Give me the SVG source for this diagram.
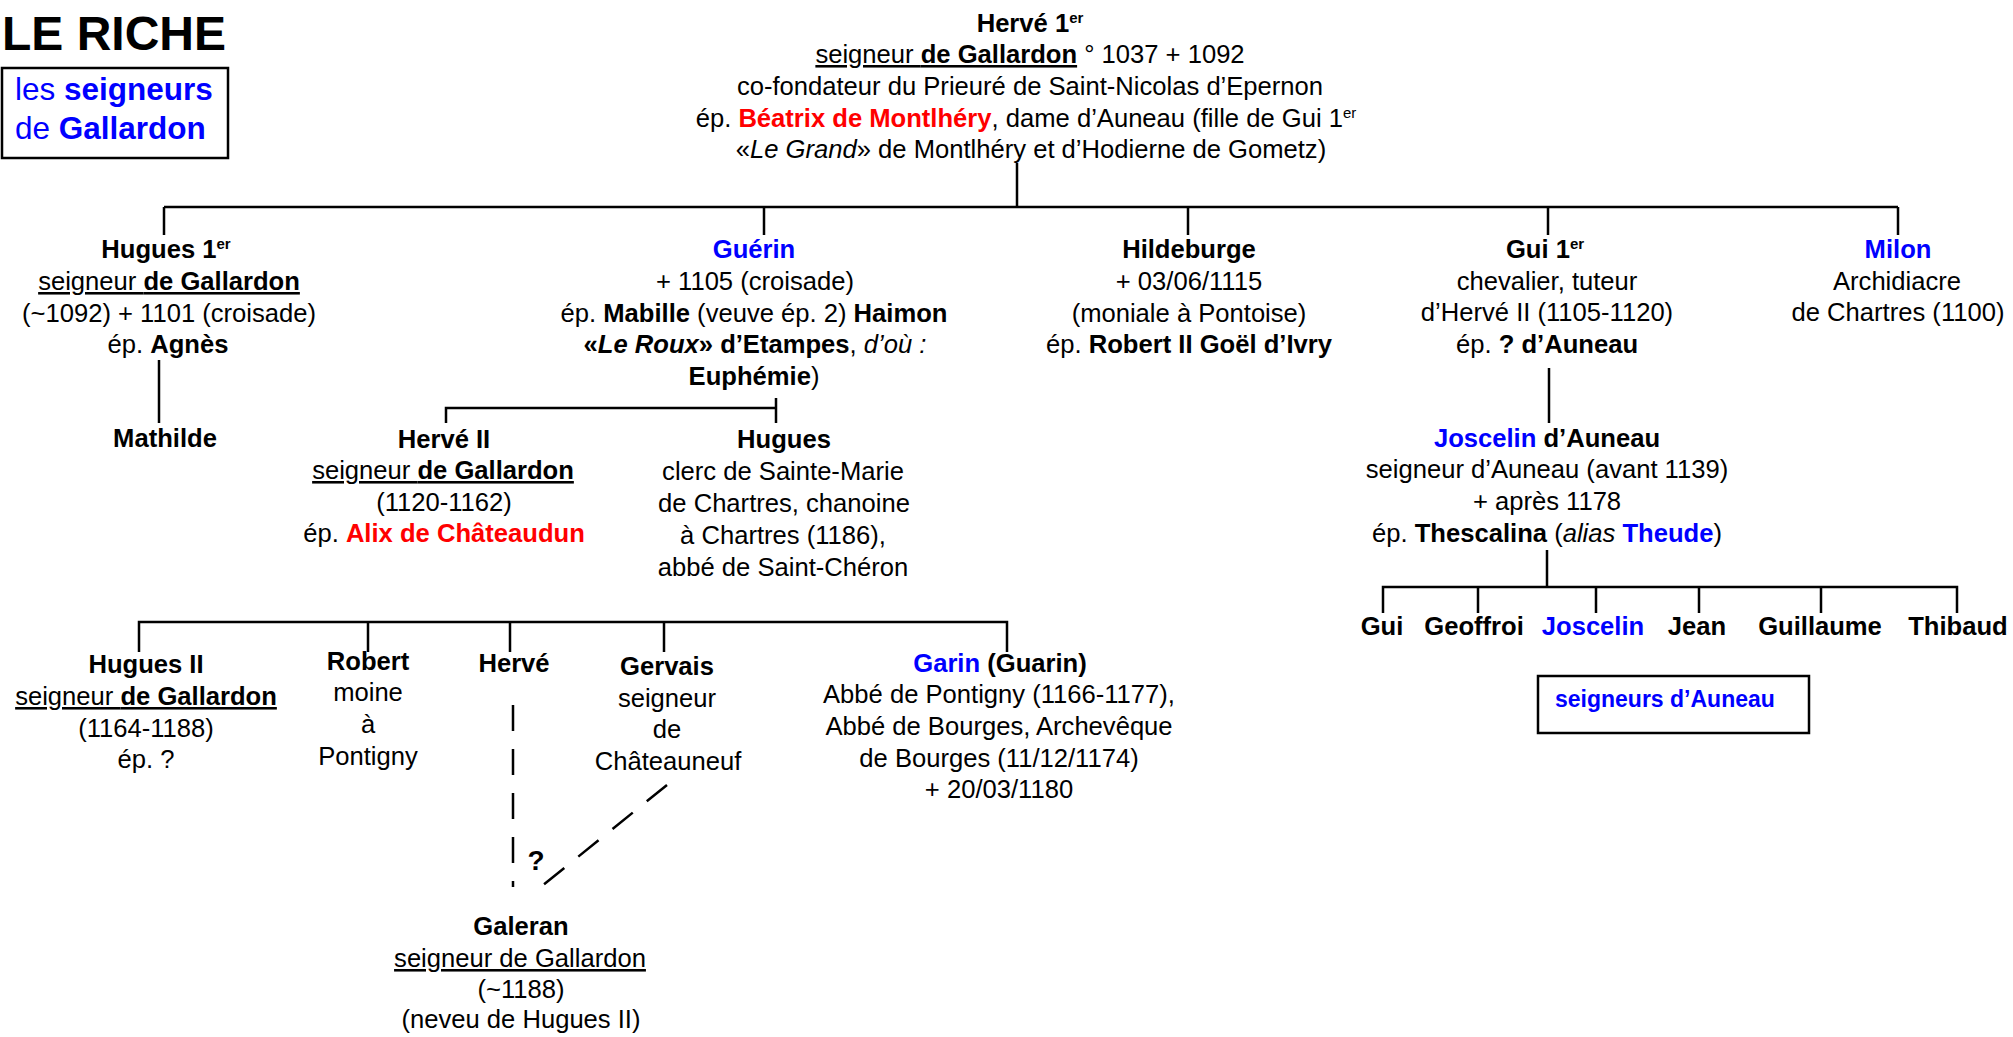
<svg xmlns="http://www.w3.org/2000/svg" width="2013" height="1037" viewBox="0 0 2013 1037">
<style>
text{font-family:"Liberation Sans",Arial,sans-serif;font-size:25.6px;fill:#000;text-anchor:middle}
.b{font-weight:bold}
.i{font-style:italic}
.bl{fill:#0000FF}
.rd{fill:#FF0000}
.u{text-decoration:underline}
.sup{font-size:15px}
.ln{stroke:#000;stroke-width:2.5;fill:none}
.ds{stroke:#000;stroke-width:2.5;fill:none;stroke-dasharray:26 18}
</style>
<rect width="2013" height="1037" fill="#fff"/>
<g id="title">
<text x="2" y="50" style="text-anchor:start;font-size:48px" class="b">LE RICHE</text>
<rect x="2" y="68" width="226" height="90" fill="#fff" stroke="#000" stroke-width="2.5"/>
<text x="15" y="100" style="text-anchor:start;font-size:31.5px" class="bl">les <tspan class="b">seigneurs</tspan></text>
<text x="15" y="139" style="text-anchor:start;font-size:31.5px" class="bl">de <tspan class="b">Gallardon</tspan></text>
</g>
<g id="connectors">
<path class="ln" d="M1017 163V207M164 207H1898M164 207V235M764 207V235M1188 207V235M1548 207V235M1898 207V235"/>
<path class="ln" d="M159 360V423"/>
<path class="ln" d="M446 423V408H776M776 398V423"/>
<path class="ln" d="M1549 368V423"/>
<path class="ln" d="M1547 550V587M1383 613V587H1957V613M1478 587V613M1596 587V613M1699 587V613M1821 587V613"/>
<path class="ln" d="M139 652V622H1007V652M368 622V652M510 622V652M664 622V652"/>
<path class="ds" d="M513 705V887"/>
<path class="ds" d="M667 785L532 894"/>
</g>
<g id="herve1">
<text x="1030" y="32" class="b">Hervé 1<tspan class="sup" dy="-9">er</tspan></text>
<text x="1030" y="63"><tspan class="u">seigneur </tspan><tspan class="b u">de Gallardon</tspan> ° 1037 + 1092</text>
<text x="1030" y="95">co-fondateur du Prieuré de Saint-Nicolas d’Epernon</text>
<text x="1026" y="127">ép. <tspan class="b rd">Béatrix de Montlhéry</tspan>, dame d’Auneau (fille de Gui 1<tspan class="sup" dy="-9">er</tspan></text>
<text x="1031" y="158">«<tspan class="i">Le Grand</tspan>» de Montlhéry et d’Hodierne de Gometz)</text>
</g>
<g id="hugues1">
<text x="166" y="258" class="b">Hugues 1<tspan class="sup" dy="-9">er</tspan></text>
<text x="169" y="290"><tspan class="u">seigneur </tspan><tspan class="b u">de Gallardon</tspan></text>
<text x="169" y="322">(~1092) + 1101 (croisade)</text>
<text x="168" y="353">ép. <tspan class="b">Agnès</tspan></text>
</g>
<g id="mathilde">
<text x="165" y="447" class="b">Mathilde</text>
</g>
<g id="guerin">
<text x="754" y="258" class="b bl">Guérin</text>
<text x="755" y="290">+ 1105 (croisade)</text>
<text x="754" y="322">ép. <tspan class="b">Mabille</tspan> (veuve ép. 2) <tspan class="b">Haimon</tspan></text>
<text x="755" y="353"><tspan class="b">«<tspan class="i">Le Roux</tspan>» d’Etampes</tspan>, <tspan class="i">d’où :</tspan></text>
<text x="754" y="385"><tspan class="b">Euphémie</tspan>)</text>
</g>
<g id="hildeburge">
<text x="1189" y="258" class="b">Hildeburge</text>
<text x="1189" y="290">+ 03/06/1115</text>
<text x="1189" y="322">(moniale à Pontoise)</text>
<text x="1189" y="353">ép. <tspan class="b">Robert II Goël d’Ivry</tspan></text>
</g>
<g id="gui1">
<text x="1545" y="258" class="b">Gui 1<tspan class="sup" dy="-9">er</tspan></text>
<text x="1547" y="290">chevalier, tuteur</text>
<text x="1547" y="321">d’Hervé II (1105-1120)</text>
<text x="1547" y="353">ép. <tspan class="b">? d’Auneau</tspan></text>
</g>
<g id="milon">
<text x="1898" y="258" class="b bl">Milon</text>
<text x="1897" y="290">Archidiacre</text>
<text x="1898" y="321">de Chartres (1100)</text>
</g>
<g id="herve2">
<text x="444" y="448" class="b">Hervé II</text>
<text x="443" y="479"><tspan class="u">seigneur </tspan><tspan class="b u">de Gallardon</tspan></text>
<text x="444" y="511">(1120-1162)</text>
<text x="444" y="542">ép. <tspan class="b rd">Alix de Châteaudun</tspan></text>
</g>
<g id="hugues">
<text x="784" y="448" class="b">Hugues</text>
<text x="783" y="480">clerc de Sainte-Marie</text>
<text x="784" y="512">de Chartres, chanoine</text>
<text x="783" y="544">à Chartres (1186),</text>
<text x="783" y="576">abbé de Saint-Chéron</text>
</g>
<g id="joscelin">
<text x="1547" y="447"><tspan class="b bl">Joscelin</tspan><tspan class="b"> d’Auneau</tspan></text>
<text x="1547" y="478">seigneur d’Auneau (avant 1139)</text>
<text x="1547" y="510">+ après 1178</text>
<text x="1547" y="542">ép. <tspan class="b">Thescalina</tspan> (<tspan class="i">alias</tspan> <tspan class="b bl">Theude</tspan>)</text>
</g>
<g id="auneau-children">
<text x="1382" y="635" class="b">Gui</text>
<text x="1474" y="635" class="b">Geoffroi</text>
<text x="1593" y="635" class="b bl">Joscelin</text>
<text x="1697" y="635" class="b">Jean</text>
<text x="1820" y="635" class="b">Guillaume</text>
<text x="1958" y="635" class="b">Thibaud</text>
</g>
<g id="auneau-box">
<rect x="1538" y="676" width="271" height="57" fill="#fff" stroke="#000" stroke-width="2.5"/>
<text x="1555" y="707" style="text-anchor:start;font-size:23px" class="b bl">seigneurs d’Auneau</text>
</g>
<g id="hugues2">
<text x="146" y="673" class="b">Hugues II</text>
<text x="146" y="705"><tspan class="u">seigneur </tspan><tspan class="b u">de Gallardon</tspan></text>
<text x="146" y="737">(1164-1188)</text>
<text x="146" y="768">ép. ?</text>
</g>
<g id="robert">
<text x="368" y="670" class="b">Robert</text>
<text x="368" y="701">moine</text>
<text x="368" y="733">à</text>
<text x="368" y="765">Pontigny</text>
</g>
<g id="herve">
<text x="514" y="672" class="b">Hervé</text>
</g>
<g id="gervais">
<text x="667" y="675" class="b">Gervais</text>
<text x="667" y="707">seigneur</text>
<text x="667" y="738">de</text>
<text x="668" y="770">Châteauneuf</text>
</g>
<g id="garin">
<text x="1000" y="672"><tspan class="b bl">Garin</tspan><tspan class="b"> (Guarin)</tspan></text>
<text x="999" y="703">Abbé de Pontigny (1166-1177),</text>
<text x="999" y="735">Abbé de Bourges, Archevêque</text>
<text x="999" y="767">de Bourges (11/12/1174)</text>
<text x="999" y="798">+ 20/03/1180</text>
</g>
<g id="question">
<text x="536" y="870" style="font-size:28px" class="b">?</text>
</g>
<g id="galeran">
<text x="521" y="935" class="b">Galeran</text>
<text x="520" y="967" class="u">seigneur de Gallardon</text>
<text x="521" y="998">(~1188)</text>
<text x="521" y="1028">(neveu de Hugues II)</text>
</g>
</svg>
